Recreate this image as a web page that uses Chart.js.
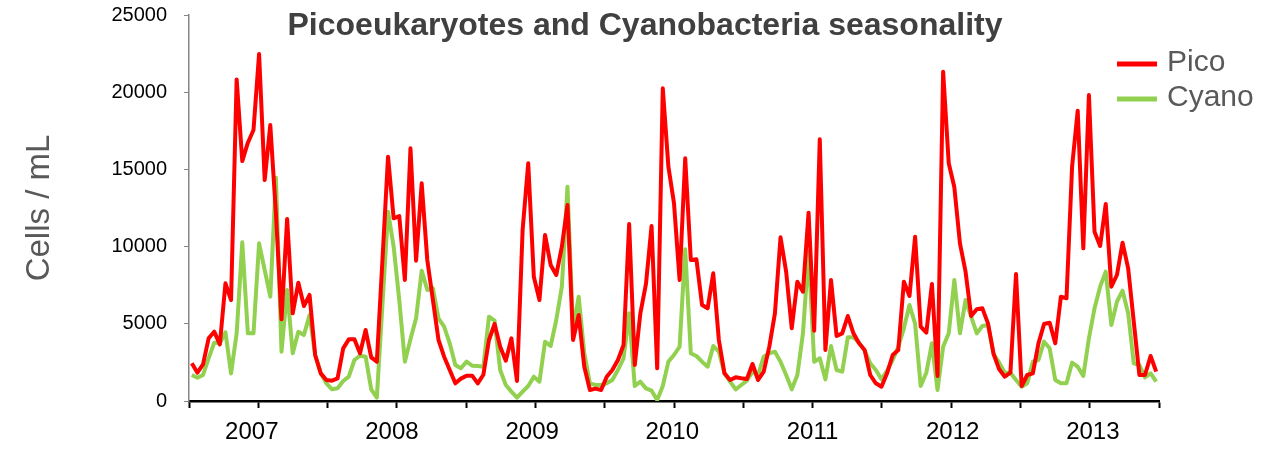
<!DOCTYPE html>
<html>
<head>
<meta charset="utf-8">
<script src="https://cdn.jsdelivr.net/npm/chart.js@4.4.1/dist/chart.umd.min.js"></script>
<style>
  html, body { margin: 0; padding: 0; background: #fff; }
  #wrap { width: 1279px; height: 455px; }
</style>
</head>
<body>
<div id="wrap"><canvas id="seasonChart" width="1279" height="455"></canvas></div>
<script>
// tick labels
const years = ['2007', '2008', '2009', '2010', '2011', '2012', '2013'];
const yTicks = [0, 5000, 10000, 15000, 20000, 25000];

// cells / mL, one value per sample
const pico = [
  2440, 1835, 2375, 4060, 4490, 3670, 7620, 6540, 20830, 15540,
  16730, 17550, 22475, 14310, 17875, 12150, 5290, 11790, 5680, 7660,
  6150, 6870, 2980, 1790, 1360, 1317, 1468, 3411, 3994, 3994,
  3087, 4599, 2828, 2548, 9132, 15825, 11831, 11982, 7837, 16365,
  9089, 14098, 9132, 6542, 3951, 2871, 2008, 1144, 1450, 1641,
  1641, 1144, 1700, 3951, 4987, 3519, 2612, 4059, 1295, 11076,
  15394, 8053, 6542, 10752, 8809, 8161, 9996, 12695, 3951, 5570,
  2224, 712, 799, 712, 1576, 2008, 2656, 3627, 11464, 2332,
  5678, 7578, 11335, 2116, 20251, 15178, 12803, 7837, 15722, 9132,
  9175, 6218, 6002, 8269, 3951, 1792, 1360, 1533, 1468, 1425,
  2397, 1360, 1900, 3519, 5678, 10600, 8377, 4707, 7729, 7081,
  12198, 4555, 16948, 3303, 7837, 4210, 4383, 5505, 4383, 3735,
  3303, 1684, 1144, 928, 1792, 2979, 3303, 7729, 6801, 10644,
  4815, 4426, 7578, 1619, 21331, 15394, 13839, 10212, 8377, 5505,
  5937, 6002, 5030, 3044, 2051, 1576, 1835, 8226, 972, 1684,
  1792, 3735, 4987, 5073, 3735, 6758, 6650, 15178, 18805, 9888,
  19820, 10968, 10039, 12760, 7405, 8161, 10255, 8593, 5138, 1684,
  1684, 2915, 1900
];

const cyano = [
  1685, 1510, 1685, 2760, 3780, 3735, 4450, 1790, 4380, 10275,
  4380, 4380, 10210, 8485, 6760, 14460, 3195, 7190, 3090, 4490,
  4275, 5570, 2980, 1790, 1145, 756, 820, 1295, 1576, 2656,
  2936, 2871, 756, 216, 6240, 12263, 9996, 6542, 2548, 3994,
  5354, 8442, 7189, 7297, 5354, 4815, 3735, 2332, 2116, 2548,
  2289, 2267, 2224, 5462, 5203, 2008, 1036, 605, 216, 605,
  972, 1576, 1252, 3843, 3562, 5246, 7405, 13882, 4599, 6758,
  3087, 1144, 1036, 1036, 1144, 1360, 2008, 2764, 5678, 972,
  1252, 820, 669, 65, 972, 2548, 2979, 3519, 9823, 3087,
  2915, 2548, 2224, 3562, 3195, 1792, 1252, 756, 1036, 1317,
  1900, 1684, 2871, 3087, 3195, 2548, 1684, 756, 1684, 4383,
  9672, 2548, 2764, 1403, 3562, 2008, 1900, 4124, 4124, 3778,
  3260, 2440, 2008, 1403, 1965, 2656, 3519, 4707, 6218, 5000,
  972, 1835, 3735, 712, 3519, 4383, 7837, 4383, 6542, 5462,
  4383, 4858, 4923, 3044, 2483, 1835, 1835, 1360, 928, 1144,
  2548, 2656, 3843, 3411, 1360, 1144, 1144, 2483, 2224, 1619,
  4059, 6002, 7405, 8377, 4923, 6434, 7146, 5678, 2440, 2332,
  1533, 1792, 1252
];

const FONT = '"Liberation Sans", Arial, sans-serif';
const nSamples = pico.length;

// half-year tick marks and year labels, in sample units
const tickMarks = [];
for (let j = 0; j <= 14; j++) tickMarks.push({ value: -0.5 + j * nSamples / 14 });
const yearTicks = years.map((y, k) => ({ value: 10.7 + k * 25, year: y }));

const overlay = {
  id: 'overlay',
  afterDraw(chart) {
    const ctx = chart.ctx;
    ctx.save();
    ctx.font = 'bold 32px ' + FONT;
    ctx.fillStyle = '#404040';
    ctx.textAlign = 'center';
    ctx.textBaseline = 'middle';
    ctx.fillText('Picoeukaryotes and Cyanobacteria seasonality', 645, 26);

    // legend
    chart.data.datasets.forEach((ds, i) => {
      const y = 64 + i * 35;
      ctx.strokeStyle = ds.borderColor;
      ctx.lineWidth = 5;
      ctx.beginPath();
      ctx.moveTo(1117, y);
      ctx.lineTo(1157, y);
      ctx.stroke();
      ctx.font = '30px ' + FONT;
      ctx.fillStyle = '#595959';
      ctx.textAlign = 'left';
      ctx.fillText(ds.label, 1167, y - 1);
    });
    ctx.restore();
  }
};

new Chart(document.getElementById('seasonChart'), {
  type: 'line',
  data: {
    datasets: [
      {
        label: 'Pico',
        data: pico.map((v, i) => ({ x: i, y: v })),
        borderColor: '#FF0000',
        borderWidth: 4,
        pointRadius: 0,
        borderJoinStyle: 'round'
      },
      {
        label: 'Cyano',
        data: cyano.map((v, i) => ({ x: i, y: v })),
        borderColor: '#92D050',
        borderWidth: 4,
        pointRadius: 0,
        borderJoinStyle: 'round'
      }
    ]
  },
  options: {
    responsive: false,
    animation: false,
    devicePixelRatio: 1,
    layout: { padding: { top: 15, right: 120, left: 0, bottom: 0 } },
    plugins: {
      legend: { display: false },
      title: { display: false },
      tooltip: { enabled: false }
    },
    scales: {
      x: {
        type: 'linear',
        min: -0.5,
        max: nSamples - 0.5,
        afterBuildTicks: s => { s.ticks = tickMarks.concat(yearTicks); },
        afterFit: s => { s.height = 54; },
        ticks: {
          autoSkip: false,
          maxRotation: 0,
          padding: 10,
          color: '#000',
          font: { size: 24, family: FONT },
          callback: (v, i, t) => t[i].year || ''
        },
        grid: {
          drawOnChartArea: false,
          tickLength: 7,
          tickWidth: 2,
          tickColor: c => (c.tick && c.tick.year) ? 'rgba(0,0,0,0)' : '#000'
        },
        border: { color: '#000', width: 2.5 }
      },
      y: {
        min: 0,
        max: 25000,
        afterBuildTicks: s => { s.ticks = yTicks.map(v => ({ value: v })); },
        afterFit: s => { s.width = 189; s.paddingTop = 0; s.paddingBottom = 0; },
        ticks: {
          padding: 17,
          color: '#000',
          font: { size: 20, family: FONT },
          callback: v => String(v)
        },
        grid: { drawOnChartArea: false, tickLength: 5, color: '#868686' },
        border: { color: '#868686', width: 1.5 },
        title: {
          display: true,
          text: 'Cells / mL',
          color: '#595959',
          font: { size: 33, family: FONT },
          padding: { top: 20, bottom: 0 }
        }
      }
    }
  },
  plugins: [overlay]
});
</script>
</body>
</html>
